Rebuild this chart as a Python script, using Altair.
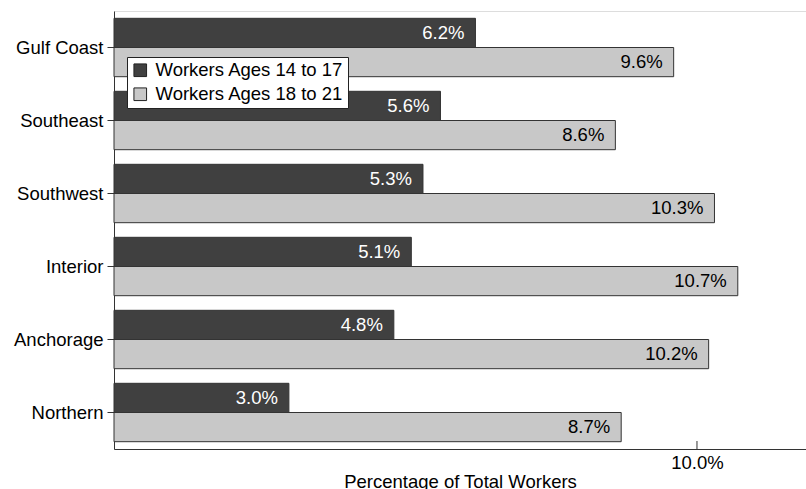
import altair as alt
import pandas as pd

regions = ["Gulf Coast", "Southeast", "Southwest", "Interior", "Anchorage", "Northern"]
series = ["Workers Ages 14 to 17", "Workers Ages 18 to 21"]
ages_14_17 = [6.2, 5.6, 5.3, 5.1, 4.8, 3.0]
ages_18_21 = [9.6, 8.6, 10.3, 10.7, 10.2, 8.7]
x_ticks = [10.0]
colors = ["#404040", "#c8c8c8"]
text_colors = ["#ffffff", "#000000"]

rows = []
for i, r in enumerate(regions):
    rows.append({"region": r, "series": series[0], "value": ages_14_17[i]})
    rows.append({"region": r, "series": series[1], "value": ages_18_21[i]})
df = pd.DataFrame(rows)
df["label"] = df["value"].map(lambda v: f"{v:.1f}%")
tick_df = pd.DataFrame({"t": x_ticks})

FONT = "Liberation Sans"
FS = 18.5
W, H = 692, 438

xscale = alt.Scale(domain=[0, 11.87], nice=False, zero=True)
yscale = alt.Scale(domain=regions, paddingInner=0.2, paddingOuter=0.1)

base = alt.Chart(df).encode(
    y=alt.Y("region:N", scale=yscale, sort=regions,
            axis=alt.Axis(title=None, labelFont=FONT, labelFontSize=FS, labelColor="#000",
                          tickSize=7, tickColor="#333", domainColor="#333", labelPadding=4)),
    yOffset=alt.YOffset("series:N", sort=series),
)

bars = base.mark_bar(stroke="#333", strokeWidth=1).encode(
    x=alt.X("value:Q", scale=xscale,
            axis=alt.Axis(title="Percentage of Total Workers", values=x_ticks, ticks=False,
                          labelExpr="format(datum.value, '.1f') + '%'",
                          labelFont=FONT, labelFontSize=FS, labelColor="#000", labelPadding=4,
                          titleFont=FONT, titleFontSize=FS, titleFontWeight="normal",
                          titleColor="#000", titlePadding=1, domainColor="#333", grid=False)),
    color=alt.Color("series:N", sort=series, scale=alt.Scale(domain=series, range=colors),
                    legend=alt.Legend(title=None, orient="none", legendX=13, legendY=46,
                                      labelFont=FONT, labelFontSize=FS, labelColor="#000",
                                      labelLimit=400,
                                      symbolType="square", symbolSize=160, symbolStrokeColor="#222",
                                      symbolStrokeWidth=1, strokeColor="#222", fillColor="#fff",
                                      padding=4, rowPadding=5, labelOffset=6)),
)

labels = base.mark_text(align="right", baseline="middle", dx=-11, font=FONT, fontSize=FS).encode(
    x=alt.X("value:Q", scale=xscale),
    text="label:N",
    color=alt.Color("series:N", sort=series, scale=alt.Scale(domain=series, range=text_colors), legend=None),
)

tick = alt.Chart(tick_df).mark_rule(color="#333", strokeWidth=1).encode(
    x=alt.X("t:Q", scale=xscale),
    y=alt.value(H - 8),
    y2=alt.value(H),
)

chart = alt.layer(bars, labels, tick).resolve_scale(color="independent").properties(
    width=W, height=H,
    autosize=alt.AutoSizeParams(type="none"),
    padding={"left": 114, "top": 11, "right": 0, "bottom": 40},
).configure_view(stroke="#333", strokeWidth=1).configure(background="#ffffff")

chart.save("out.html", embed_options={"renderer": "svg", "actions": False})
